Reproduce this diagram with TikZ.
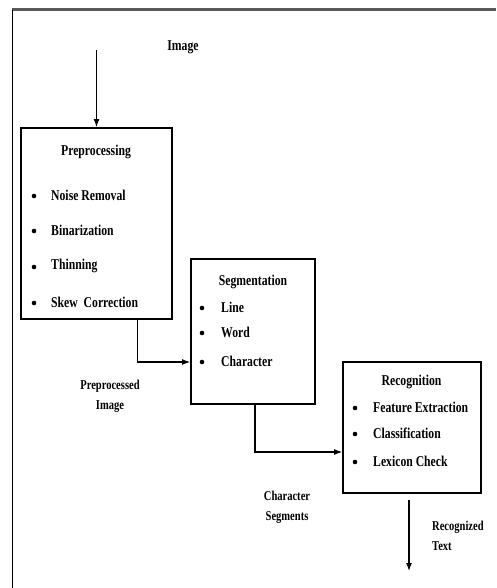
\documentclass[tikz,border=0pt]{standalone}
\usepackage{fontspec}
\setmainfont{Liberation Serif}[FakeStretch=0.78]
\usetikzlibrary{arrows.meta}
\tikzset{
  x=1pt, y=-1pt,
  box/.style={draw=black, line width=1.8pt, inner sep=0pt},
  ttl/.style={font=\fontsize{15}{18}\selectfont\bfseries, inner sep=0pt},
  itm/.style={font=\fontsize{15}{18}\selectfont\bfseries, inner sep=0pt, anchor=west},
  bul/.style={circle, fill=black, inner sep=0pt, minimum size=4.6pt},
  lbl/.style={font=\fontsize{13.5}{20}\selectfont\bfseries, inner sep=0pt, align=center},
  arr/.style={draw=black, line width=1.1pt, -{Latex[length=8pt,width=6pt]}},
}
\begin{document}
\begin{tikzpicture}
\useasboundingbox (0,0) rectangle (496,588);
% outer frame
\draw[gray!70!black, line width=3pt] (12,10) -- (496,10);
\draw[black, line width=1.5pt] (12.5,10) -- (12.5,588);

% boxes
\node[box, minimum width=151pt, minimum height=191pt] (pre) at (96.5,223.5) {};
\node[box, minimum width=124pt, minimum height=145pt] (seg) at (253,331.5) {};
\node[box, minimum width=138pt, minimum height=131pt] (rec) at (412,427.5) {};

% preprocessing text
\node[ttl] (pret) at (96,152) {Preprocessing};
\node[bul] (pb1) at (34,196) {};
\node[itm] (pi1) at (51,195) {Noise Removal};
\node[bul] (pb2) at (34,231) {};
\node[itm] (pi2) at (51,230) {Binarization};
\node[bul] (pb3) at (34,267) {};
\node[itm] (pi3) at (51,266) {Thinning};
\node[bul] (pb4) at (34,303) {};
\node[itm] (pi4) at (51,302) {Skew\ \ Correction};

% segmentation text
\node[ttl] (segt) at (253,282) {Segmentation};
\node[bul] (sb1) at (202,308) {};
\node[itm] (si1) at (221,307) {Line};
\node[bul] (sb2) at (202,333) {};
\node[itm] (si2) at (221,332) {Word};
\node[bul] (sb3) at (202,362) {};
\node[itm] (si3) at (221,361) {Character};

% recognition text
\node[ttl] (rect) at (411.5,382) {Recognition};
\node[bul] (rb1) at (355,408) {};
\node[itm] (ri1) at (373,407) {Feature Extraction};
\node[bul] (rb2) at (355,434) {};
\node[itm] (ri2) at (373,433) {Classification};
\node[bul] (rb3) at (355,462) {};
\node[itm] (ri3) at (373,461) {Lexicon Check};

% labels
\node[ttl] (img) at (183,47) {Image};
\node[lbl] (ppi) at (110,396) {Preprocessed\\Image};
\node[lbl] (chs) at (287,507) {Character\\Segments};
\node[lbl, align=left, anchor=west] (rtx) at (432,536) {Recognized\\Text};

% connectors
\coordinate (imgtop) at (96.5,50);
\draw[arr] (imgtop) -- (pre.north);
\draw[arr] ([xshift=117pt]pre.south west) |- ([yshift=-30.5pt]seg.west);
\draw[arr] ([xshift=2pt]seg.south) |- ([yshift=-24.5pt]rec.west);
\coordinate (rtop) at (409,500);
\coordinate (rbot) at (409,571);
\draw[arr] (rtop) -- (rbot);
\end{tikzpicture}
\end{document}
